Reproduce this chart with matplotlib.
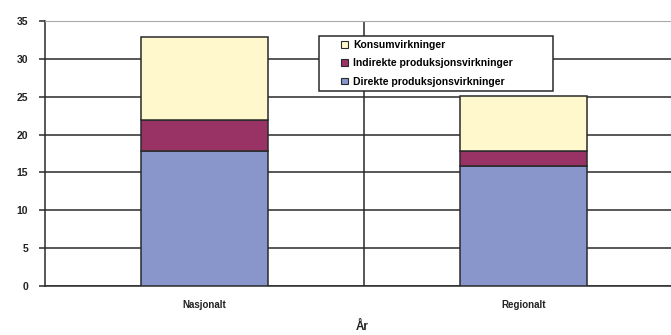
import numpy as np
import matplotlib.pyplot as plt
from matplotlib.patches import Rectangle

plt.rcParams['font.family'] = ['Liberation Sans', 'DejaVu Sans']

kategorier = ['Nasjonalt', 'Regionalt']
direkte = [17.8, 15.8]
indirekte = [4.1, 2.0]
konsum = [11.0, 7.3]

farger = {'direkte': '#8896cc', 'indirekte': '#993366', 'konsum': '#fff8cc'}
linjefarge = '#2a2a2a'

W, H = 671, 335
fig = plt.figure(figsize=(W / 100, H / 100), dpi=100)
ax = fig.add_axes([45 / W, 49 / H, 638 / W, 265 / H])

x = np.arange(len(kategorier))
bredde = 0.4
b1 = ax.bar(x, direkte, bredde, color=farger['direkte'], edgecolor=linjefarge,
            linewidth=1.1, label='Direkte produksjonsvirkninger', zorder=3)
b2 = ax.bar(x, indirekte, bredde, bottom=direkte, color=farger['indirekte'],
            edgecolor=linjefarge, linewidth=1.1,
            label='Indirekte produksjonsvirkninger', zorder=3)
bunn = np.array(direkte) + np.array(indirekte)
b3 = ax.bar(x, konsum, bredde, bottom=bunn, color=farger['konsum'],
            edgecolor=linjefarge, linewidth=1.1, label='Konsumvirkninger', zorder=3)

ax.set_xlim(-0.5, 1.5)
ax.set_ylim(0, 35)
ax.set_yticks(np.arange(0, 36, 5))
ax.set_xticks(x)
ax.set_xticklabels(kategorier)
ax.set_xticks([0.5], minor=True)

ax.grid(axis='y', color=linjefarge, linewidth=1.1, zorder=0)
ax.grid(axis='x', which='minor', color=linjefarge, linewidth=1.1, zorder=0)
ax.tick_params(axis='x', which='both', length=0, pad=10, labelsize=7)
ax.tick_params(axis='y', length=4, width=1.1, color=linjefarge, pad=8, labelsize=7.5)
for lbl in ax.get_xticklabels() + ax.get_yticklabels():
    lbl.set_fontweight('bold')
    lbl.set_color('#222222')

ax.spines['top'].set_color('#aaaaaa')
ax.spines['right'].set_visible(False)
ax.spines['left'].set_color(linjefarge)
ax.spines['left'].set_linewidth(1.1)
ax.spines['bottom'].set_color(linjefarge)
ax.spines['bottom'].set_linewidth(1.1)

fig.text(362 / W, 1 - 327 / H, 'År', ha='center', va='center',
         fontsize=8.5, fontweight='bold', color='#222222')

# legendeboks
ramme = Rectangle((319 / W, 1 - 91 / H), (553 - 319) / W, (91 - 36) / H,
                  transform=fig.transFigure, facecolor='white',
                  edgecolor=linjefarge, linewidth=1.1, zorder=4)
fig.patches.append(ramme)

leg = fig.legend(handles=[b3, b2, b1], loc='upper left',
                 bbox_to_anchor=(341 / W, 1 - 40 / H),
                 prop={'weight': 'bold', 'size': 7.5},
                 frameon=False, handlelength=0.65, handleheight=0.65,
                 handletextpad=0.5, borderpad=0, labelspacing=0.8,
                 borderaxespad=0)
leg.set_zorder(5)
for h in leg.legend_handles:
    h.set_linewidth(0.8)

fig.savefig('out.png', dpi=100)
